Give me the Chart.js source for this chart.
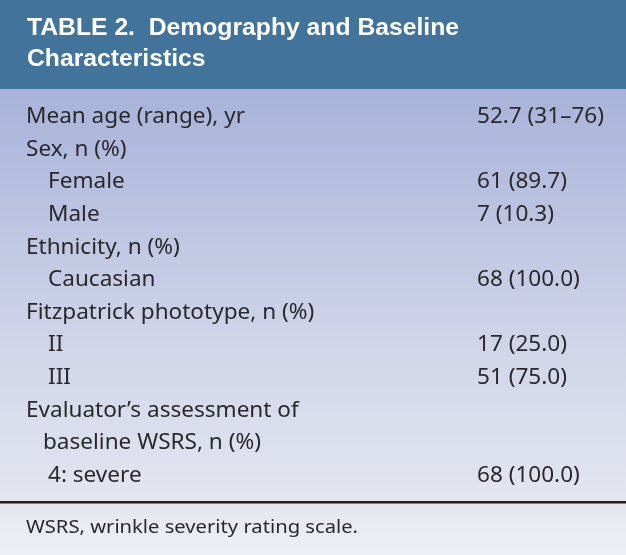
<!DOCTYPE html>
<html>
<head>
<meta charset="utf-8">
<script src="https://cdn.jsdelivr.net/npm/chart.js@4/dist/chart.umd.min.js"></script>
<style>
  body { margin: 0; background: #ffffff; }
  canvas { display: block; }
</style>
</head>
<body>
<canvas id="tableChart" width="626" height="555"></canvas>
<script>
const titleLines = ['TABLE 2.  Demography and Baseline', 'Characteristics']
const rowLabels = [
    'Mean age (range), yr',
    'Sex, n (%)',
    'Female',
    'Male',
    'Ethnicity, n (%)',
    'Caucasian',
    'Fitzpatrick phototype, n (%)',
    'II',
    'III',
    'Evaluator\u2019s assessment of',
    'baseline WSRS, n (%)',
    '4: severe'
]
// 0 = heading, 1 = sub item, 2 = wrapped heading line
const rowLevels = [0, 0, 1, 1, 0, 1, 0, 1, 1, 0, 2, 1]
const rowValues = ['52.7 (31\u201376)', '', '61 (89.7)', '7 (10.3)', '', '68 (100.0)', '', '17 (25.0)', '51 (75.0)', '', '', '68 (100.0)']
const footnote = 'WSRS, wrinkle severity rating scale.'

const indents = [0, 22, 17]
const valueColumn = 451
const headerHeight = 89
const ruleY = 502

const bodyFont = '21px "Noto Sans", "Liberation Sans", sans-serif'
const titleFont = 'bold 24px "Liberation Sans Narrow", "Liberation Sans", sans-serif'

let tableBackground = {
    id: 'tableBackground',
    beforeDraw(chart) {
        let ctx = chart.ctx
        let w = chart.width
        let h = chart.height
        ctx.save()
        let grad = ctx.createLinearGradient(0, headerHeight, 0, h)
        grad.addColorStop(0, '#a8b3d9')
        grad.addColorStop(0.5, '#cdd2e8')
        grad.addColorStop(0.88, '#e3e6ef')
        grad.addColorStop(1, '#eff0f4')
        ctx.fillStyle = grad
        ctx.fillRect(0, headerHeight, w, h - headerHeight)

        ctx.fillStyle = '#42739b'
        ctx.fillRect(0, 0, w, headerHeight)

        ctx.fillStyle = '#231f20'
        ctx.fillRect(0, ruleY - 1, w, 2.5)

        ctx.fillStyle = '#ffffff'
        ctx.font = titleFont
        ctx.textBaseline = 'middle'
        let scaleX = 432 / ctx.measureText(titleLines[0]).width
        titleLines.forEach((line, i) => {
            ctx.save()
            ctx.translate(27, 28 + i * 31)
            ctx.scale(scaleX, 1)
            ctx.fillText(line, 0, 0)
            ctx.restore()
        })
        ctx.restore()
    },
    afterDraw(chart) {
        let ctx = chart.ctx
        let yScale = chart.scales.y
        let left = chart.chartArea.left
        ctx.save()
        ctx.fillStyle = '#2a282b'
        ctx.textBaseline = 'middle'
        ctx.font = bodyFont
        let scaleX = 219 / ctx.measureText(rowLabels[0]).width
        rowLabels.forEach((label, i) => {
            let y = yScale.getPixelForValue(i)
            ctx.save()
            ctx.translate(left + indents[rowLevels[i]], y)
            ctx.scale(scaleX, 1)
            ctx.fillText(label, 0, 0)
            ctx.restore()
            if (rowValues[i]) {
                ctx.save()
                ctx.translate(left + valueColumn, y)
                ctx.scale(scaleX, 1)
                ctx.fillText(rowValues[i], 0, 0)
                ctx.restore()
            }
        })
        ctx.font = '18px "Noto Sans", "Liberation Sans", sans-serif'
        ctx.save()
        ctx.translate(left, 528)
        ctx.scale(332 / ctx.measureText(footnote).width, 1)
        ctx.fillText(footnote, 0, 0)
        ctx.restore()
        ctx.restore()
    }
}

const ctx = document.getElementById('tableChart').getContext('2d')

let tableChart = new Chart(ctx, {
    type: 'bar',
    data: {
        labels: rowLabels,
        datasets: [{
            data: rowLabels.map(() => 0),
            backgroundColor: 'rgba(0,0,0,0)'
        }]
    },
    plugins: [tableBackground],
    options: {
        indexAxis: 'y',
        responsive: false,
        animation: false,
        devicePixelRatio: 1,
        layout: {
            padding: { top: 101, bottom: 63, left: 26, right: 26 }
        },
        plugins: {
            legend: { display: false },
            tooltip: { enabled: false }
        },
        scales: {
            x: { display: false, min: 0, max: 1 },
            y: { display: false }
        }
    }
})
</script>
</body>
</html>
